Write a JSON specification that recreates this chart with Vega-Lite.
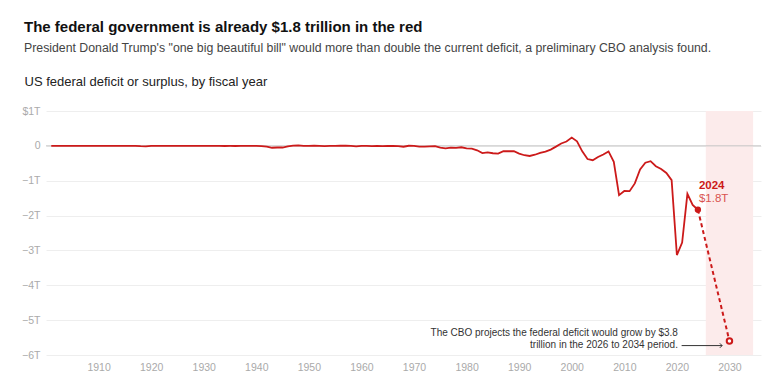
{
  "$schema": "https://vega.github.io/schema/vega-lite/v6.json",
  "width": 715,
  "height": 244,
  "autosize": {"type": "none"},
  "padding": {"left": 46, "top": 111, "right": 19, "bottom": 36},
  "background": "white",
  "title": {
    "text": "The federal government is already $1.8 trillion in the red",
    "subtitle": "President Donald Trump's \"one big beautiful bill\" would more than double the current deficit, a preliminary CBO analysis found.",
    "anchor": "start",
    "frame": "group",
    "dx": -22,
    "offset": 21,
    "font": "Liberation Sans, Arial, sans-serif",
    "fontSize": 15,
    "fontWeight": "bold",
    "color": "#111111",
    "subtitleFont": "Liberation Sans, Arial, sans-serif",
    "subtitleFontSize": 12.3,
    "subtitleColor": "#444444",
    "subtitlePadding": 7
  },
  "config": {
    "view": {"stroke": null},
    "font": "Liberation Sans, Arial, sans-serif"
  },
  "layer": [
    {
      "data": {"values": [{"year": 2025.5, "year2": 2034.5}]},
      "mark": {"type": "rect", "color": "#fcebeb"},
      "encoding": {
        "x": {
          "field": "year", "type": "quantitative",
          "scale": {"domain": [1900, 2036], "nice": false, "zero": false},
          "axis": {
            "title": null, "values": [1910, 1920, 1930, 1940, 1950, 1960, 1970, 1980, 1990, 2000, 2010, 2020, 2030],
            "tickCount": 20,
            "format": "d", "ticks": false, "domain": false, "grid": false, "labelOverlap": false,
            "labelColor": "#aaaaaa", "labelFontSize": 10.5, "labelPadding": 7
          }
        },
        "x2": {"field": "year2"}
      }
    },
    {
      "data": {"values": [{"value": 0}]},
      "mark": {"type": "rule", "color": "#c4c4c4", "strokeWidth": 1},
      "encoding": {
        "y": {
          "field": "value", "type": "quantitative",
          "scale": {"domain": [-6, 1], "nice": false, "zero": false},
          "axis": {
            "title": "US federal deficit or surplus, by fiscal year",
            "titleAngle": 0, "titleAlign": "left", "titleBaseline": "alphabetic",
            "titleX": -22, "titleY": -26, "titleFontSize": 13, "titleFontWeight": "normal",
            "titleColor": "#222222", "titleFont": "Liberation Sans, Arial, sans-serif",
            "values": [1, 0, -1, -2, -3, -4, -5, -6],
            "tickCount": 12,
            "labelExpr": "datum.value == 1 ? '$1T' : datum.value == 0 ? '0' : '\u2212' + abs(datum.value) + 'T'",
            "ticks": false, "domain": false, "gridColor": "#eeeeee", "labelOverlap": false,
            "labelColor": "#aaaaaa", "labelFontSize": 10.5, "labelPadding": 6
          }
        }
      }
    },
    {
      "data": {"values": [
        {"year": 1901, "value": 0.0001}, {"year": 1902, "value": 0.0001}, {"year": 1903, "value": 0.0000},
        {"year": 1904, "value": 0.0000}, {"year": 1905, "value": 0.0000}, {"year": 1906, "value": 0.0000},
        {"year": 1907, "value": 0.0001}, {"year": 1908, "value": -0.0001}, {"year": 1909, "value": -0.0001},
        {"year": 1910, "value": 0.0000}, {"year": 1911, "value": 0.0000}, {"year": 1912, "value": 0.0000},
        {"year": 1913, "value": 0.0000}, {"year": 1914, "value": 0.0000}, {"year": 1915, "value": -0.0001},
        {"year": 1916, "value": 0.0000}, {"year": 1917, "value": -0.0009}, {"year": 1918, "value": -0.009},
        {"year": 1919, "value": -0.0134}, {"year": 1920, "value": 0.0003}, {"year": 1921, "value": 0.0005},
        {"year": 1922, "value": 0.0007}, {"year": 1923, "value": 0.0007}, {"year": 1924, "value": 0.001},
        {"year": 1925, "value": 0.0007}, {"year": 1926, "value": 0.0009}, {"year": 1927, "value": 0.0012},
        {"year": 1928, "value": 0.0009}, {"year": 1929, "value": 0.0007}, {"year": 1930, "value": 0.0007},
        {"year": 1931, "value": -0.0005}, {"year": 1932, "value": -0.0027}, {"year": 1933, "value": -0.0026},
        {"year": 1934, "value": -0.0036}, {"year": 1935, "value": -0.0028}, {"year": 1936, "value": -0.0044},
        {"year": 1937, "value": -0.0028}, {"year": 1938, "value": -0.0001}, {"year": 1939, "value": -0.0028},
        {"year": 1940, "value": -0.0029}, {"year": 1941, "value": -0.0049}, {"year": 1942, "value": -0.0205},
        {"year": 1943, "value": -0.0546}, {"year": 1944, "value": -0.0476}, {"year": 1945, "value": -0.0476},
        {"year": 1946, "value": -0.0159}, {"year": 1947, "value": 0.004}, {"year": 1948, "value": 0.0118},
        {"year": 1949, "value": 0.0006}, {"year": 1950, "value": -0.0031}, {"year": 1951, "value": 0.0061},
        {"year": 1952, "value": -0.0015}, {"year": 1953, "value": -0.0065}, {"year": 1954, "value": -0.0012},
        {"year": 1955, "value": -0.003}, {"year": 1956, "value": 0.0039}, {"year": 1957, "value": 0.0034},
        {"year": 1958, "value": -0.0028}, {"year": 1959, "value": -0.0128}, {"year": 1960, "value": 0.0003},
        {"year": 1961, "value": -0.0033}, {"year": 1962, "value": -0.0071}, {"year": 1963, "value": -0.0048},
        {"year": 1964, "value": -0.0059}, {"year": 1965, "value": -0.0014}, {"year": 1966, "value": -0.0037},
        {"year": 1967, "value": -0.0086}, {"year": 1968, "value": -0.0252}, {"year": 1969, "value": 0.0032},
        {"year": 1970, "value": -0.0028}, {"year": 1971, "value": -0.023}, {"year": 1972, "value": -0.0234},
        {"year": 1973, "value": -0.0149}, {"year": 1974, "value": -0.0061}, {"year": 1975, "value": -0.0532},
        {"year": 1976, "value": -0.0737}, {"year": 1977, "value": -0.0537}, {"year": 1978, "value": -0.0592},
        {"year": 1979, "value": -0.0407}, {"year": 1980, "value": -0.0738}, {"year": 1981, "value": -0.079},
        {"year": 1982, "value": -0.128}, {"year": 1983, "value": -0.2078}, {"year": 1984, "value": -0.1854},
        {"year": 1985, "value": -0.2123}, {"year": 1986, "value": -0.2212}, {"year": 1987, "value": -0.1497},
        {"year": 1988, "value": -0.1552}, {"year": 1989, "value": -0.1526}, {"year": 1990, "value": -0.221},
        {"year": 1991, "value": -0.2692}, {"year": 1992, "value": -0.2903}, {"year": 1993, "value": -0.2551},
        {"year": 1994, "value": -0.2032}, {"year": 1995, "value": -0.164}, {"year": 1996, "value": -0.1074},
        {"year": 1997, "value": -0.0219}, {"year": 1998, "value": 0.0693}, {"year": 1999, "value": 0.1256},
        {"year": 2000, "value": 0.2362}, {"year": 2001, "value": 0.1282}, {"year": 2002, "value": -0.1578},
        {"year": 2003, "value": -0.3776}, {"year": 2004, "value": -0.4127}, {"year": 2005, "value": -0.3183},
        {"year": 2006, "value": -0.2482}, {"year": 2007, "value": -0.1607}, {"year": 2008, "value": -0.4586},
        {"year": 2009, "value": -1.4127}, {"year": 2010, "value": -1.2944}, {"year": 2011, "value": -1.2996},
        {"year": 2012, "value": -1.0766}, {"year": 2013, "value": -0.6798}, {"year": 2014, "value": -0.4848},
        {"year": 2015, "value": -0.4385}, {"year": 2016, "value": -0.5847}, {"year": 2017, "value": -0.6654},
        {"year": 2018, "value": -0.7791}, {"year": 2019, "value": -0.9836}, {"year": 2020, "value": -3.1319},
        {"year": 2021, "value": -2.7753}, {"year": 2022, "value": -1.3759}, {"year": 2023, "value": -1.6938},
        {"year": 2024, "value": -1.8328}
      ]},
      "mark": {"type": "line", "color": "#cc1a1a", "strokeWidth": 1.8},
      "encoding": {
        "x": {"field": "year", "type": "quantitative"},
        "y": {"field": "value", "type": "quantitative"}
      }
    },
    {
      "data": {"values": [{"year": 2024, "value": -1.8328}, {"year": 2030, "value": -5.6}]},
      "mark": {"type": "line", "color": "#cc1a1a", "strokeWidth": 2, "strokeDash": [4, 3]},
      "encoding": {
        "x": {"field": "year", "type": "quantitative"},
        "y": {"field": "value", "type": "quantitative"}
      }
    },
    {
      "data": {"values": [{"year": 2024, "value": -1.8328}]},
      "mark": {"type": "point", "filled": true, "color": "#cc1a1a", "size": 40, "opacity": 1},
      "encoding": {
        "x": {"field": "year", "type": "quantitative"},
        "y": {"field": "value", "type": "quantitative"}
      }
    },
    {
      "data": {"values": [{"year": 2030, "value": -5.6}]},
      "mark": {"type": "point", "filled": false, "fill": "white", "stroke": "#cc1a1a", "strokeWidth": 2, "size": 30, "opacity": 1},
      "encoding": {
        "x": {"field": "year", "type": "quantitative"},
        "y": {"field": "value", "type": "quantitative"}
      }
    },
    {
      "data": {"values": [{"year": 2024, "value": -1.8328, "label": "2024"}]},
      "mark": {"type": "text", "align": "left", "baseline": "alphabetic", "dx": 1, "dy": -21, "fontSize": 11.5, "fontWeight": "bold", "color": "#cc1a1a"},
      "encoding": {
        "x": {"field": "year", "type": "quantitative"},
        "y": {"field": "value", "type": "quantitative"},
        "text": {"field": "label"}
      }
    },
    {
      "data": {"values": [{"year": 2024, "value": -1.8328, "label": "$1.8T"}]},
      "mark": {"type": "text", "align": "left", "baseline": "alphabetic", "dx": 1, "dy": -8, "fontSize": 11.5, "color": "#d9534f"},
      "encoding": {
        "x": {"field": "year", "type": "quantitative"},
        "y": {"field": "value", "type": "quantitative"},
        "text": {"field": "label"}
      }
    },
    {
      "data": {"values": [{"year": 2020.2, "value": -5.45, "label": ["The CBO projects the federal deficit would grow by $3.8", "trillion in the 2026 to 2034 period."]}]},
      "mark": {"type": "text", "align": "right", "baseline": "alphabetic", "fontSize": 10, "lineHeight": 12, "color": "#333333"},
      "encoding": {
        "x": {"field": "year", "type": "quantitative"},
        "y": {"field": "value", "type": "quantitative"},
        "text": {"field": "label"}
      }
    },
    {
      "data": {"values": [{"year": 2020.9, "year2": 2028.6, "value": -5.73}]},
      "mark": {"type": "rule", "color": "#333333", "strokeWidth": 1},
      "encoding": {
        "x": {"field": "year", "type": "quantitative"},
        "x2": {"field": "year2"},
        "y": {"field": "value", "type": "quantitative"}
      }
    },
    {
      "data": {"values": [{"year": 2028.6, "value": -5.73}]},
      "mark": {"type": "point", "shape": "M-1,-1L0,0L-1,1", "filled": false, "stroke": "#333333", "strokeWidth": 1, "size": 20, "opacity": 1},
      "encoding": {
        "x": {"field": "year", "type": "quantitative"},
        "y": {"field": "value", "type": "quantitative"}
      }
    }
  ]
}
